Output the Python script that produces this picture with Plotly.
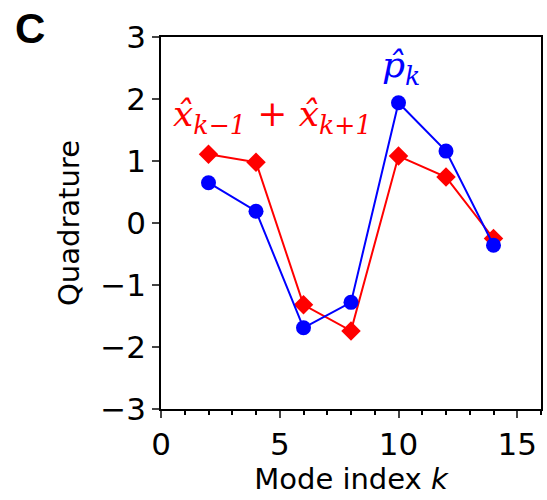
import plotly.graph_objects as go

k = [2, 4, 6, 8, 10, 12, 14]
p_hat = [0.65, 0.19, -1.69, -1.28, 1.94, 1.16, -0.36]
x_sum = [1.11, 0.98, -1.32, -1.74, 1.08, 0.74, -0.25]
x_ticks = [0, 5, 10, 15]
y_ticks = [-3, -2, -1, 0, 1, 2, 3]
y_ticklabels = ["\u22123", "\u22122", "\u22121", "0", "1", "2", "3"]

fig = go.Figure()
fig.add_trace(go.Scatter(x=k, y=x_sum, mode="lines+markers",
                         line=dict(color="#ff0000", width=2),
                         marker=dict(symbol="diamond", size=15, color="#ff0000")))
fig.add_trace(go.Scatter(x=k, y=p_hat, mode="lines+markers",
                         line=dict(color="#0000ff", width=2),
                         marker=dict(symbol="circle", size=15, color="#0000ff")))

font = "DejaVu Sans, sans-serif"
fig.update_layout(
    width=547, height=500,
    margin=dict(l=161, r=4, t=37, b=91),
    plot_bgcolor="white", paper_bgcolor="white",
    showlegend=False,
    font=dict(family=font, size=31, color="black"),
    xaxis=dict(range=[0, 16], tickvals=x_ticks, ticks="outside", ticklen=7, tickwidth=1.5,
               showgrid=False, zeroline=False, showline=True, linecolor="black", linewidth=1.5,
               mirror=True, tickfont=dict(size=31),
               minor=dict(dtick=1, ticks="outside", ticklen=4, tickcolor="black"),
               title=dict(text="Mode index <i>k</i>", font=dict(size=29), standoff=4)),
    yaxis=dict(range=[-3, 3], tickvals=y_ticks, ticktext=y_ticklabels, ticks="outside",
               ticklen=7, tickwidth=1.5,
               showgrid=False, zeroline=False, showline=True, linecolor="black", linewidth=1.5,
               mirror=True, tickfont=dict(size=31),
               title=dict(text="Quadrature", font=dict(size=29), standoff=12)),
)
fig.add_annotation(x=10.1, y=2.51, text="<i>p\u0302<sub>k</sub></i>", showarrow=False,
                   font=dict(family="DejaVu Serif, serif", size=36, color="#0000ff"))
fig.add_annotation(x=4.69, y=1.72,
                   text="<i>x\u0302<sub>k\u22121</sub></i> + <i>x\u0302<sub>k+1</sub></i>",
                   showarrow=False,
                   font=dict(family="DejaVu Serif, serif", size=36, color="#ff0000"))
fig.add_annotation(x=-0.3455, y=1.024, xref="paper", yref="paper", text="<b>C</b>",
                   xanchor="center", yanchor="middle",
                   showarrow=False, font=dict(family="Liberation Sans, Arial, sans-serif",
                                              size=42, color="black"))
fig.write_html("out.html")
